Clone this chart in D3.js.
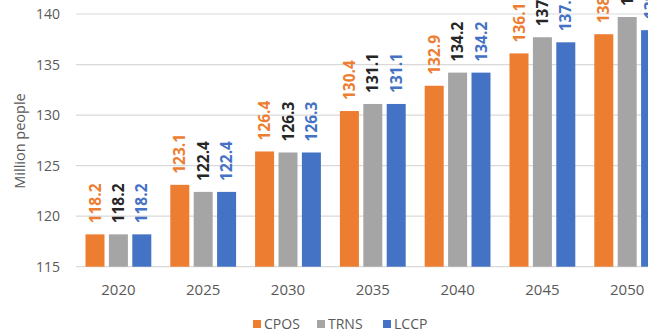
<!DOCTYPE html>
<html>
<head>
<meta charset="utf-8">
<script src="https://cdn.jsdelivr.net/npm/d3@7"></script>
<style>
  body { margin: 0; background: #fff; }
  svg { display: block; font-family: "Open Sans", sans-serif; }
</style>
</head>
<body>
<div id="chart"></div>
<script>
// data
var years = ["2020", "2025", "2030", "2035", "2040", "2045", "2050"];
var seriesNames = ["CPOS", "TRNS", "LCCP"];
var cpos = [118.2, 123.1, 126.4, 130.4, 132.9, 136.1, 138.0];
var trns = [118.2, 122.4, 126.3, 131.1, 134.2, 137.7, 139.7];
var lccp = [118.2, 122.4, 126.3, 131.1, 134.2, 137.2, 138.4];
var yTicks = [115, 120, 125, 130, 135, 140];

var colors = { CPOS: "#ED7D31", TRNS: "#A5A5A5", LCCP: "#4472C4" };
var labelColors = { CPOS: "#ED7D31", TRNS: "#262626", LCCP: "#4472C4" };

var svgWidth = 648;
var svgHeight = 334;

var svg = d3.select("#chart")
    .append("svg")
    .attr("width", svgWidth)
    .attr("height", svgHeight);

// plot area (the chart runs off the right edge like the original)
var plotLeft = 76;
var step = 84.8;
var yTop = 14, yBottom = 266.7;

var x0 = d3.scaleBand()
    .domain(years)
    .range([plotLeft, plotLeft + step * years.length]);

var x1 = d3.scaleBand()
    .domain(seriesNames)
    .range([-32.9, 32.9])
    .paddingInner(0.188);

var y = d3.scaleLinear()
    .domain([115, 140])
    .range([yBottom, yTop]);

// gridlines
svg.append("g")
    .selectAll("line")
    .data(yTicks)
    .enter()
    .append("line")
    .attr("x1", plotLeft)
    .attr("x2", svgWidth)
    .attr("y1", d => y(d))
    .attr("y2", d => y(d))
    .attr("stroke", "#d9d9d9")
    .attr("stroke-width", 1.2);

// y axis labels
var leftAxis = d3.axisLeft(y).tickValues(yTicks).tickSize(0).tickPadding(0);
var yAxisG = svg.append("g")
    .attr("transform", `translate(60, 0)`)
    .call(leftAxis);
yAxisG.select(".domain").remove();
yAxisG.selectAll("text")
    .attr("fill", "#595959")
    .style("font-size", "14px")
    .style("font-family", "Open Sans, sans-serif");

// x axis labels
var bottomAxis = d3.axisBottom(x0).tickSize(0).tickPadding(0);
var xAxisG = svg.append("g")
    .attr("transform", `translate(0, ${yBottom + 18})`)
    .call(bottomAxis);
xAxisG.select(".domain").remove();
xAxisG.selectAll("text")
    .attr("fill", "#595959")
    .style("font-size", "15px")
    .style("font-family", "Open Sans, sans-serif");

// bars
var rows = years.map(function(yr, i) {
    return { year: yr, CPOS: cpos[i], TRNS: trns[i], LCCP: lccp[i] };
});

var groups = svg.selectAll(".group")
    .data(rows)
    .enter()
    .append("g")
    .attr("class", "group")
    .attr("transform", d => `translate(${x0(d.year) + x0.bandwidth() / 2}, 0)`);

groups.selectAll("rect")
    .data(d => seriesNames.map(s => ({ key: s, value: d[s] })))
    .enter()
    .append("rect")
    .attr("x", d => x1(d.key))
    .attr("y", d => y(d.value))
    .attr("width", x1.bandwidth())
    .attr("height", d => y(115) - y(d.value))
    .attr("fill", d => colors[d.key]);

// value labels, rotated
groups.selectAll(".lbl")
    .data(d => seriesNames.map(s => ({ key: s, value: d[s] })))
    .enter()
    .append("text")
    .attr("class", "lbl")
    .attr("transform", d => `translate(${x1(d.key) + x1.bandwidth() / 2}, ${y(d.value) - 11}) rotate(-90)`)
    .attr("dy", "0.36em")
    .attr("text-anchor", "start")
    .attr("fill", d => labelColors[d.key])
    .style("font-size", "15.5px")
    .style("font-weight", "bold")
    .text(d => d.value.toFixed(1));

// y axis title
svg.append("text")
    .attr("transform", "rotate(-90)")
    .attr("x", -141)
    .attr("y", 20)
    .attr("dy", "0.35em")
    .attr("text-anchor", "middle")
    .attr("fill", "#595959")
    .style("font-size", "14.5px")
    .text("Million people");

// legend
var legendX = [253, 317, 383];
var legend = svg.selectAll(".legend")
    .data(seriesNames)
    .enter()
    .append("g")
    .attr("class", "legend")
    .attr("transform", (d, i) => `translate(${legendX[i]}, 324)`);

legend.append("rect")
    .attr("x", 0)
    .attr("y", -4)
    .attr("width", 8)
    .attr("height", 8)
    .attr("fill", d => colors[d]);

legend.append("text")
    .attr("x", 11)
    .attr("dy", "0.35em")
    .attr("fill", "#595959")
    .style("font-size", "14px")
    .text(d => d);
</script>
</body>
</html>
